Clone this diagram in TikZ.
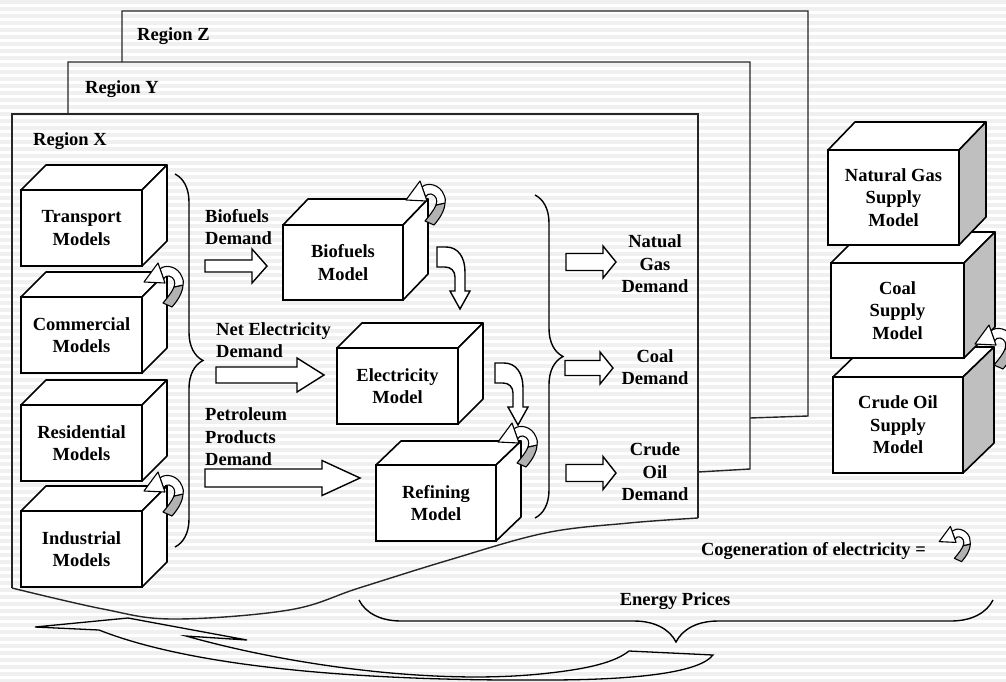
\documentclass[tikz,border=0pt]{standalone}
\usepackage{fontspec}
\setmainfont{Liberation Serif}
\usetikzlibrary{decorations.pathreplacing,calc}
\newcommand\boxfont{\bfseries\fontsize{18.5}{22.5}\selectfont}
% cuboid: name, x, y, w, h, dx, dy, side fill, text
\newcommand\cuboid[9]{%
  \node[face, minimum width=#4pt, minimum height=#5pt, anchor=north west] (#1) at (#2,#3) {#9};
  \draw[edge, fill=white] (#1.north west) -- ++(#6,-#7) -- ++(#4,0) -- (#1.north east) -- cycle;
  \draw[edge, fill=#8] (#1.north east) -- ++(#6,-#7) -- ++(0,#5) -- (#1.south east) -- cycle;
}
% curl icon (cogeneration): x, y, scale
\newcommand\curl[3]{%
  \begin{scope}[shift={(#1,#2)}, scale=#3, line width=1.1pt, line join=round]
    \filldraw[fill=black!30] (13,0) .. controls (12.5,8) and (8,15) .. (2,22) -- (-7,18)
      .. controls (-2,12) and (2,7) .. (4,2) -- cycle;
    \filldraw[fill=white] (-10,-16) .. controls (-5,-21) and (8,-19) .. (12,-8)
      .. controls (13.5,-4) .. (13,0) -- (4,2) .. controls (6,-3) and (4,-8) .. (-1,-9)
      .. controls (-4,-9) .. (-6.4,-6) -- cycle;
    \filldraw[fill=white] (-12,-22) -- (-26,-3) -- (-5,-2) -- cycle;
  \end{scope}}
% straight block arrow: x1, x2, yc, shaft half, head half, head length
\newcommand\harrow[6]{%
  \draw[blockarrow] (#1,{#3-#4}) -- ({#2-#6},{#3-#4}) -- ({#2-#6},{#3-#5}) -- (#2,#3)
    -- ({#2-#6},{#3+#5}) -- ({#2-#6},{#3+#4}) -- (#1,{#3+#4}) -- cycle;}
% bent block arrow at x, y
\newcommand\bendarrow[2]{%
  \draw[blockarrow, shift={(#1,#2)}] (0,0) -- (9,0) .. controls (21,0) and (28,10) .. (28,25)
    -- (28,44) -- (33,44) -- (23,62) -- (13,44) -- (18,44) -- (18,30)
    .. controls (18,24) and (14,20) .. (8,20) -- (0,20) -- cycle;}
\begin{document}
\begin{tikzpicture}[x=1pt,y=-1pt,
  frame/.style={line width=1.4pt, black!85, line join=miter},
  face/.style={draw, line width=1.6pt, fill=white, inner sep=0pt, outer sep=0pt, align=center, font=\boxfont},
  edge/.style={line width=1.6pt, line join=round},
  blockarrow/.style={draw, line width=1.4pt, fill=white, line join=miter},
  lab/.style={font=\boxfont, inner sep=0pt},
  bracestyle/.style={line width=1.4pt, decorate, decoration={brace, amplitude=#1}}]
\useasboundingbox (0,0) rectangle (1006,681);
% background stripes
\fill[white] (0,0) rectangle (1006,681);
\foreach \k in {0,...,97} {\fill[black!6] (0,{\k*7}) rectangle (1006,{\k*7+3.5});}

% region frames
\draw[frame] (122,62) -- (122,11) -- (808,11) -- (808,416) -- (750,418);
\draw[frame] (68,114) -- (68,62) -- (750,62) -- (750,469) -- (698,472);
\draw[frame] (698,518) -- (698,114) -- (12,114) -- (12,588);
\draw[frame] plot[smooth, tension=0.6] coordinates {(12,588) (103,609) (173,619) (289,610) (359,588) (449,560) (545,533) (629,523) (698,518)};
\node[lab, anchor=west] (rz) at (137,36) {Region Z};
\node[lab, anchor=west] (ry) at (85,89) {Region Y};
\node[lab, anchor=west] (rx) at (33,141) {Region X};

% demand side models
\cuboid{transport}{21}{190}{121}{76}{25}{25}{white}{Transport\\Models}
\cuboid{commercial}{21}{297}{121}{76}{25}{25}{white}{Commercial\\Models}
\cuboid{residential}{21}{405}{121}{76}{25}{25}{white}{Residential\\Models}
\cuboid{industrial}{21}{511}{121}{76}{25}{25}{white}{Industrial\\Models}
\curl{170}{285}{1}
\curl{170}{494}{1}

\draw[bracestyle=28pt] (175,174) -- (175,547);

% conversion models
\cuboid{biofuels}{283}{225}{120}{75}{25}{26}{white}{Biofuels\\Model}
\cuboid{electricity}{337}{348}{121}{76}{25}{25}{white}{Electricity\\Model}
\cuboid{refining}{376}{465}{120}{76}{25}{24}{white}{Refining\\Model}
\curl{432}{203}{1}
\bendarrow{437}{247}
\bendarrow{495}{363}
\curl{524}{445}{1}

\node[lab, anchor=west, align=left] (biodem) at (205,227) {Biofuels\\Demand};
\node[lab, anchor=west, align=left] (elecdem) at (216,340) {Net Electricity\\Demand};
\node[lab, anchor=west, align=left] (petdem) at (205,437) {Petroleum\\Products\\Demand};
\harrow{205}{267}{266}{6}{17}{15}
\harrow{216}{324}{375}{8}{17}{27}
\harrow{205}{360}{478}{9}{17.5}{38}

\draw[bracestyle=28pt] (535,195) -- (535,518);
\harrow{566}{616}{262}{8.5}{16}{13}
\harrow{565}{613}{368}{7.5}{16}{13}
\harrow{566}{616}{473}{8.5}{16.5}{13}
\node[lab, align=center] (ngdem) at (655,264) {Natual\\Gas\\Demand};
\node[lab, align=center] (coaldem) at (655,367) {Coal\\Demand};
\node[lab, align=center] (oildem) at (655,472) {Crude\\Oil\\Demand};

% supply models
\cuboid{crude}{833}{377}{130}{96}{31}{30}{black!25}{Crude Oil\\Supply\\Model}
\cuboid{coal}{831}{263}{133}{95}{31}{31}{black!25}{Coal\\Supply\\Model}
\cuboid{natgas}{828}{150}{131}{95}{27}{28}{black!25}{Natural Gas\\Supply\\Model}
\curl{1001}{347}{1}

% legend
\node[lab, anchor=east] (cogen) at (926,551) {Cogeneration of electricity =};
\curl{960}{544}{0.8}

% energy prices
\draw[bracestyle=42pt] (993,600) -- (359,600);
\node[lab] (prices) at (675,601) {Energy Prices};
\draw[line width=1.3pt, line join=miter] (35,627) -- (128,618) -- (247,640) -- (186,636)
  .. controls (300,668) and (440,684) .. (540,674)
  .. controls (590,669) and (615,662) .. (629,651) -- (713,655)
  .. controls (700,672) and (640,680) .. (545,680)
  .. controls (380,681) and (200,670) .. (99,630) -- cycle;
\end{tikzpicture}
\end{document}
